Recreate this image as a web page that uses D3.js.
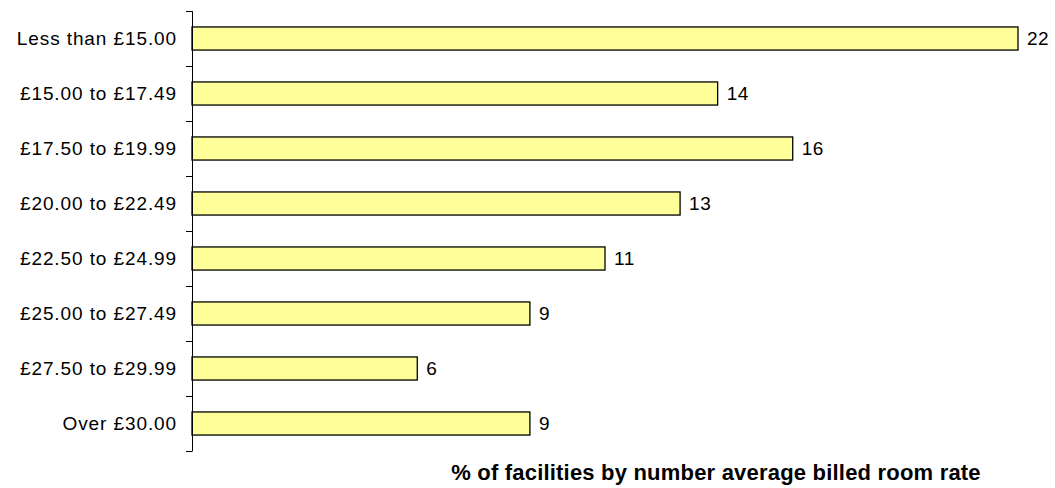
<!DOCTYPE html>
<html>
<head>
<meta charset="utf-8">
<script src="https://cdn.jsdelivr.net/npm/d3@7"></script>
<style>
  body { margin: 0; background: #fff; }
  text { font-family: "Liberation Sans", Arial, sans-serif; }
</style>
</head>
<body>
<svg></svg>
<script>
let categories = ['Less than £15.00', '£15.00 to £17.49', '£17.50 to £19.99', '£20.00 to £22.49',
    '£22.50 to £24.99', '£25.00 to £27.49', '£27.50 to £29.99', 'Over £30.00'];
let values = [22, 14, 16, 13, 11, 9, 6, 9];
let axisTitle = '% of facilities by number average billed room rate';

let width = 1055;
let height = 488;
let plotLeft = 192;
let plotTop = 11;
let plotBottom = 451;

let svg = d3.select('svg').attr('width', width).attr('height', height);

let xScale = d3.scaleLinear()
    .domain([0, 22])
    .range([plotLeft, 1018]);

let yScale = d3.scaleBand()
    .domain(categories)
    .range([plotTop, plotBottom])
    .paddingInner(0.58)
    .paddingOuter(0.29);

// bars
svg.selectAll('rect.bar')
    .data(values)
    .enter()
    .append('rect')
    .attr('class', 'bar')
    .attr('x', xScale(0))
    .attr('y', (d, i) => yScale(categories[i]))
    .attr('width', d => xScale(d) - xScale(0))
    .attr('height', yScale.bandwidth())
    .attr('fill', '#ffff99')
    .attr('stroke', '#000')
    .attr('stroke-width', 1.3);

// value labels
svg.selectAll('text.val')
    .data(values)
    .enter()
    .append('text')
    .attr('class', 'val')
    .attr('x', d => xScale(d) + 9)
    .attr('y', (d, i) => yScale(categories[i]) + yScale.bandwidth() / 2)
    .attr('dy', '0.35em')
    .attr('font-size', 19)
    .attr('letter-spacing', 0.5)
    .attr('fill', '#000')
    .text(d => d);

// y axis line + ticks at band boundaries
let axis = svg.append('g').attr('stroke', '#000').attr('stroke-width', 1);
axis.append('line')
    .attr('x1', plotLeft + 0.5).attr('x2', plotLeft + 0.5)
    .attr('y1', plotTop).attr('y2', plotBottom);
let bounds = d3.range(categories.length + 1).map(i => plotTop + i * (plotBottom - plotTop) / categories.length);
axis.selectAll('line.tick')
    .data(bounds)
    .enter()
    .append('line')
    .attr('x1', plotLeft - 6).attr('x2', plotLeft + 0.5)
    .attr('y1', d => Math.round(d) + 0.5).attr('y2', d => Math.round(d) + 0.5);

// category labels
svg.selectAll('text.cat')
    .data(categories)
    .enter()
    .append('text')
    .attr('class', 'cat')
    .attr('x', 177)
    .attr('y', d => yScale(d) + yScale.bandwidth() / 2)
    .attr('dy', '0.35em')
    .attr('text-anchor', 'end')
    .attr('font-size', 19)
    .attr('letter-spacing', 0.9)
    .text(d => d);

// axis title
svg.append('text')
    .attr('x', 716)
    .attr('y', 480)
    .attr('text-anchor', 'middle')
    .attr('font-size', 22)
    .attr('font-weight', 'bold')
    .attr('letter-spacing', 0.2)
    .text(axisTitle);
</script>
</body>
</html>
